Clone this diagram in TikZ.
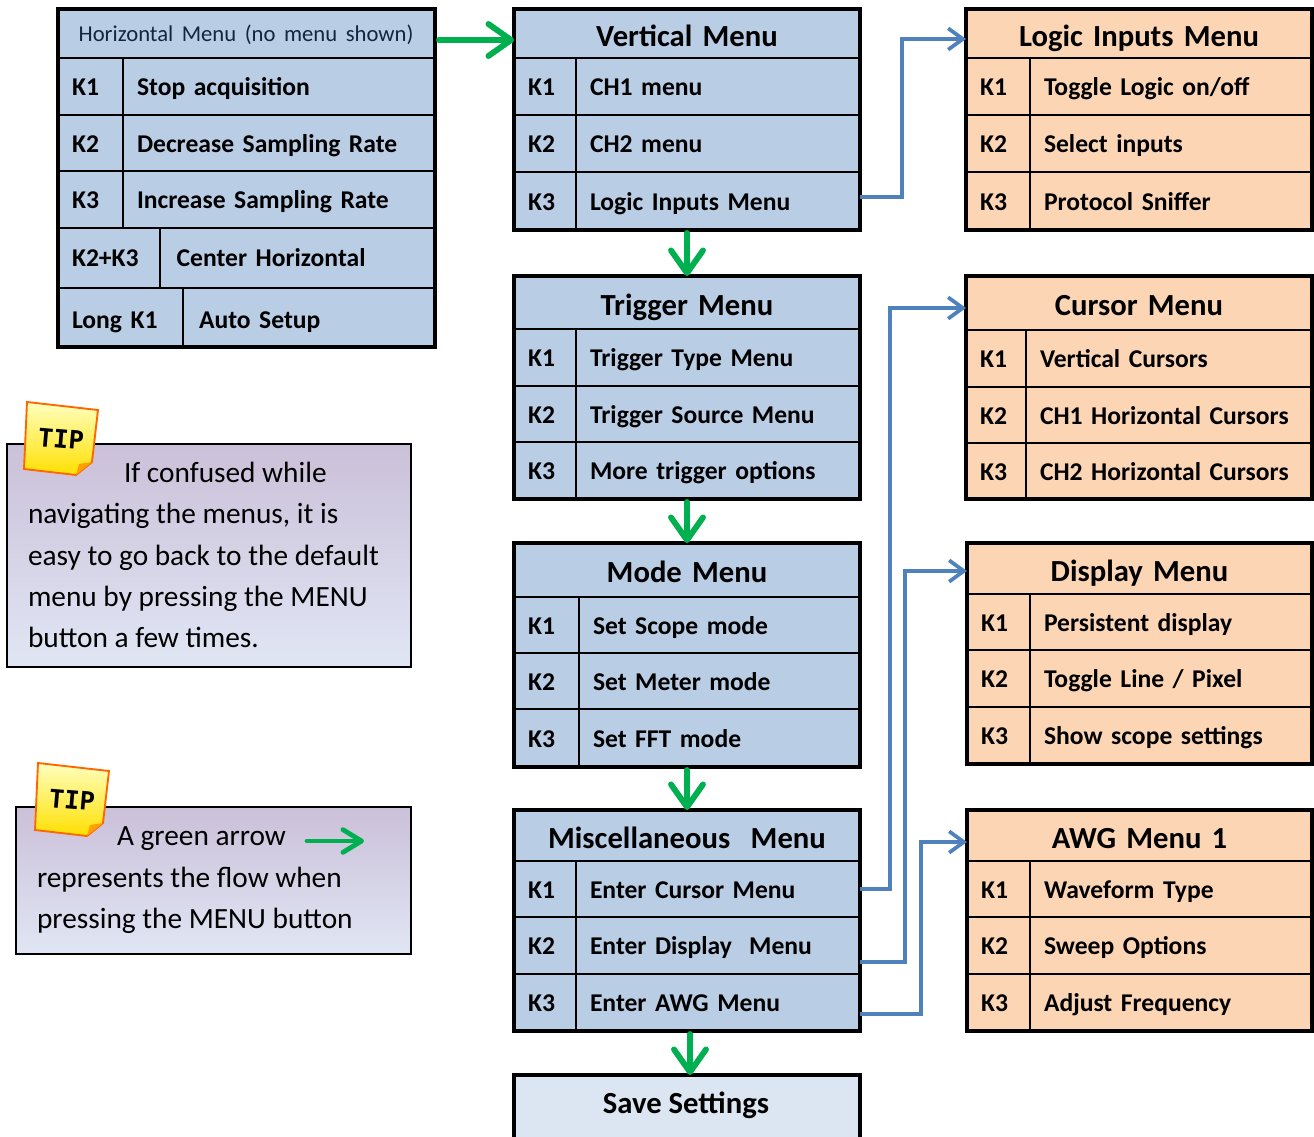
\documentclass[tikz,border=0pt]{standalone}
\usepackage{fontspec}
\setmainfont{Carlito}
\newfontfamily\tipfont{DejaVu Sans Mono}
\usetikzlibrary{arrows.meta}
\definecolor{menublue}{HTML}{B9CDE5}
\definecolor{menuorange}{HTML}{FCD5B5}
\definecolor{menupale}{HTML}{DCE6F2}
\definecolor{menuslate}{HTML}{14263F}
\definecolor{flowgreen}{HTML}{00B050}
\definecolor{flowblue}{HTML}{4F81BD}
\definecolor{tiptop}{HTML}{CBC0D9}
\definecolor{tipbottom}{HTML}{E0E6F4}
\tikzset{
  menucell/.style={draw=black, line width=1.9pt, fill=menublue, anchor=north west, outer sep=0pt, inner ysep=0pt, inner xsep=10.5pt,
    text height=18pt, text depth=4pt, font=\fontsize{19.2}{21}\selectfont\bfseries, align=left},
  menuframe/.style={draw=black, line width=3pt, anchor=north west, outer sep=0pt, inner sep=0pt},
  menutitle/.style={font=\fontsize{23}{26}\selectfont\bfseries, text height=23pt, align=center},
  greenflow/.style={draw=flowgreen, line width=4.4pt, line cap=round, -{Straight Barb[length=17pt,width=24pt,line width=4.4pt,round]}},
  blueflow/.style={draw=flowblue, line width=2.8pt, -{Straight Barb[length=11pt,width=16pt,line width=2.8pt]}},
  tipbox/.style={draw=black, line width=1.4pt, top color=tiptop, bottom color=tipbottom, anchor=north west, outer sep=0pt, inner sep=0pt},
  tiptext/.style={anchor=north west, outer sep=0pt, inner sep=0pt, align=left, font=\fontsize{22}{31}\selectfont},
  tipnote/.pic={
    \path[draw=orange!80!red, line width=1.4pt, top color=yellow!25, bottom color=yellow!75!orange]
      (27,402) -- (98,410) -- (92,462) -- (76,475) -- (24,469) -- cycle;
    \path[fill=orange!75!yellow] (92,462) -- (76,475) -- (79,464) -- cycle;
    \node[rotate=-5, font=\fontsize{19}{19}\selectfont\tipfont\bfseries] (-label) at (61,439) {TIP};
  }
}
% cell: name, x0, y0, x1, y1, text
\newcommand{\menucellat}[6]{%
  \pgfmathsetlengthmacro{\cellw}{(#4-#2)*0.75pt}%
  \pgfmathsetlengthmacro{\cellh}{(#5-#3)*0.75pt}%
  \pgfmathsetlengthmacro{\cellt}{\cellw-21pt}%
  \node[menucell, minimum width=\cellw, minimum height=\cellh, text width=\cellt] (#1) at (#2,#3) {#6};}
% row: name, y0, y1, key, text (columns from \xa \xd \xb)
\newcommand{\menurow}[5]{%
  \menucellat{#1key}{\xa}{#2}{\xd}{#3}{#4}%
  \menucellat{#1txt}{\xd}{#2}{\xb}{#3}{#5}}
% title cell: name, y0, y1, title
\newcommand{\menuhead}[4]{%
  \pgfmathsetlengthmacro{\cellw}{(\xb-\xa)*0.75pt}%
  \pgfmathsetlengthmacro{\cellh}{(#3-#2)*0.75pt}%
  \node[menucell, menutitle, minimum width=\cellw, minimum height=\cellh, text width=\cellw-21pt, align=center] (#1) at (\xa,#2) {#4};}
\newcommand{\menuoutline}[3]{%
  \pgfmathsetlengthmacro{\cellw}{(\xb-\xa)*0.75pt}%
  \pgfmathsetlengthmacro{\cellh}{(#3-#2)*0.75pt}%
  \node[menuframe, minimum width=\cellw, minimum height=\cellh] (#1) at (\xa,#2) {};}

\begin{document}
\begin{tikzpicture}[x=0.75pt,y=-0.75pt]
  \useasboundingbox (0,0) rectangle (1314,1136);
  % horizontal menu
  \def\xa{58}\def\xb{435}
  \begin{scope}[menucell/.append style={text height=15.5pt}]
    \menucellat{horizhead}{58}{9}{435}{58}{\hspace*{5pt}\fontsize{17}{20}\selectfont\mdseries\color{menuslate}Horizontal Menu (no menu shown)}
  \end{scope}
  \def\xd{123}
  \menurow{horizA}{58}{115}{K1}{Stop acquisition}
  \menurow{horizB}{115}{171}{K2}{Decrease Sampling Rate}
  \menurow{horizC}{171}{228}{K3}{Increase Sampling Rate}
  \begin{scope}[menucell/.append style={text height=16pt}]
    \def\xd{160}
    \menurow{horizD}{228}{288}{K2+K3}{\hspace*{2pt}Center Horizontal}
  \end{scope}
  \begin{scope}[menucell/.append style={text height=21pt}]
    \def\xd{183}
    \menurow{horizE}{288}{347}{Long K1}{\hspace*{1.5pt}Auto Setup}
  \end{scope}
  \menuoutline{horiz}{9}{347}
  % left column of the flow
  \def\xa{514}\def\xb{860}\def\xd{576}
  \menuhead{verthead}{9}{58}{Vertical Menu}
  \foreach \nm/\ya/\yb/\ky/\tx in {vertA/58/115/K1/CH1 menu, vertB/115/172/K2/CH2 menu, vertC/172/230/K3/Logic Inputs Menu}
    {\menurow{\nm}{\ya}{\yb}{\ky}{\tx}}
  \menuoutline{vert}{9}{230}
  \menuhead{trighead}{276}{329}{Trigger Menu}
  \foreach \nm/\ya/\yb/\ky/\tx in {trigA/329/386/K1/Trigger Type Menu, trigB/386/442/K2/Trigger Source Menu, trigC/442/499/K3/More trigger options}
    {\menurow{\nm}{\ya}{\yb}{\ky}{\tx}}
  \menuoutline{trig}{276}{499}
  \def\xd{579}
  \menuhead{modehead}{543}{597}{Mode Menu}
  \foreach \nm/\ya/\yb/\ky/\tx in {modeA/597/653/K1/Set Scope mode, modeB/653/709/K2/Set Meter mode, modeC/709/767/K3/Set FFT mode}
    {\menurow{\nm}{\ya}{\yb}{\ky}{\tx}}
  \menuoutline{mode}{543}{767}
  \def\xd{576}
  \menuhead{mischead}{810}{861}{Miscellaneous\ \ Menu}
  \foreach \nm/\ya/\yb/\ky/\tx in {miscA/861/917/K1/Enter Cursor Menu, miscB/917/974/K2/Enter Display\ \ Menu, miscC/974/1031/K3/Enter AWG Menu}
    {\menurow{\nm}{\ya}{\yb}{\ky}{\tx}}
  \menuoutline{misc}{810}{1031}
  \begin{scope}[menucell/.append style={fill=menupale}]
    \menuhead{save}{1075}{1150}{}
    \menuoutline{saveframe}{1075}{1150}
    \node[font=\fontsize{23}{26}\selectfont\bfseries] (savelabel) at (686,1105) {Save Settings};
  \end{scope}
  % right column of the flow
  \begin{scope}[menucell/.append style={fill=menuorange}]
    \def\xa{966}\def\xb{1312}\def\xd{1030}
    \menuhead{logichead}{9}{58}{Logic Inputs Menu}
    \foreach \nm/\ya/\yb/\ky/\tx in {logicA/58/115/K1/{Toggle Logic on/off}, logicB/115/172/K2/Select inputs, logicC/172/230/K3/Protocol Sniffer}
      {\menurow{\nm}{\ya}{\yb}{\ky}{\tx}}
    \menuoutline{logic}{9}{230}
    \def\xd{1026}
    \menuhead{cursorhead}{276}{330}{Cursor Menu}
    \foreach \nm/\ya/\yb/\ky/\tx in {cursorA/330/387/K1/Vertical Cursors, cursorB/387/443/K2/CH1 Horizontal Cursors, cursorC/443/499/K3/CH2 Horizontal Cursors}
      {\menurow{\nm}{\ya}{\yb}{\ky}{\tx}}
    \menuoutline{cursor}{276}{499}
    \def\xa{967}\def\xd{1030}
    \menuhead{disphead}{543}{594}{Display Menu}
    \foreach \nm/\ya/\yb/\ky/\tx in {dispA/594/650/K1/Persistent display, dispB/650/707/K2/{Toggle Line / Pixel}, dispC/707/764/K3/Show scope settings}
      {\menurow{\nm}{\ya}{\yb}{\ky}{\tx}}
    \menuoutline{disp}{543}{764}
    \menuhead{awghead}{810}{861}{AWG Menu 1}
    \foreach \nm/\ya/\yb/\ky/\tx in {awgA/861/917/K1/Waveform Type, awgB/917/974/K2/Sweep Options, awgC/974/1031/K3/Adjust Frequency}
      {\menurow{\nm}{\ya}{\yb}{\ky}{\tx}}
    \menuoutline{awg}{810}{1031}
  \end{scope}
  % green flow
  \draw[greenflow] (horiz.east |- 0,40) ++(4,0) -- (vert.west |- 0,40);
  \draw[greenflow] (vert.south) ++(0,3) -- (trig.north);
  \draw[greenflow] (trig.south) ++(0,3) -- (mode.north);
  \draw[greenflow] (mode.south) ++(0,3) -- (misc.north);
  \draw[greenflow] (misc.south) ++(3,3) -- (save.north -| 690,0);
  % blue flow
  \coordinate (logicout) at (860,197);
  \coordinate (cursorout) at (860,889);
  \coordinate (dispout) at (860,962);
  \coordinate (awgout) at (860,1014);
  \draw[blueflow] (logicout) -- (902,197) |- (logic.west |- 0,39);
  \draw[blueflow] (cursorout) -- (890,889) |- (cursor.west |- 0,308);
  \draw[blueflow] (dispout) -- (905,962) |- (disp.west |- 0,571);
  \draw[blueflow] (awgout) -- (921,1014) |- (awg.west |- 0,842);
  % tips
  \node[tipbox, minimum width=303pt, minimum height=167.25pt] (tipone) at (7,444) {};
  \node[tiptext] (tiponetext) at (28,462) {\hspace*{72pt}If confused while\\navigating the menus, it is\\easy to go back to the default\\menu by pressing the MENU\\button a few times.};
  \pic (noteone) at (0,0) {tipnote};
  \node[tipbox, minimum width=296.25pt, minimum height=110.25pt] (tiptwo) at (16,807) {};
  \node[tiptext] (tiptwotext) at (37,827) {\hspace*{60pt}A green arrow\\represents the flow when\\pressing the MENU button};
  \pic (notetwo) at (11,361) {tipnote};
  \coordinate (legendstart) at (307,841);
  \coordinate (legendend) at (364,841);
  \draw[greenflow, line width=3.6pt, -{Straight Barb[length=14pt,width=17pt,line width=3.6pt,round]}] (legendstart) -- (legendend);
\end{tikzpicture}
\end{document}
